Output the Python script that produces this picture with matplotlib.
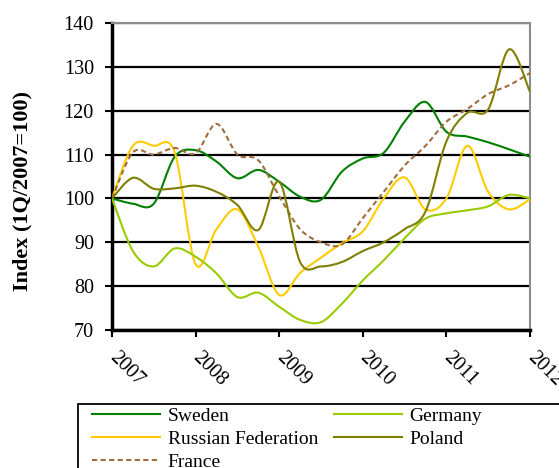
import matplotlib
matplotlib.use("Agg")
import matplotlib.pyplot as plt
from matplotlib.path import Path
from matplotlib.patches import PathPatch, Rectangle
from matplotlib.lines import Line2D

plt.rcParams['font.family'] = ['Liberation Serif', 'DejaVu Serif']

# quarterly index, 1Q2007 .. 1Q2012
quarters = [2007 + q / 4 for q in range(21)]
sweden = [100, 98.8, 98.8, 109.5, 111, 108.4, 104.6, 106.5, 103.8, 100.4, 99.7,
          106.1, 109.1, 110.4, 117.5, 122, 115.2, 114.1, 112.8, 111.2, 109.5]
germany = [100, 88, 84.5, 88.6, 86.7, 82.9, 77.5, 78.5, 75.3, 72.3, 71.8,
           76, 81.3, 85.9, 90.9, 95.4, 96.6, 97.3, 98.2, 100.8, 100]
russia = [100, 112.0, 112.0, 110.5, 85, 93, 97.5, 89, 78, 83, 86.5,
          89.8, 92.5, 100, 104.8, 97.5, 100, 112, 101.5, 97.5, 99.8]
poland = [100, 104.7, 102.2, 102.3, 102.9, 101.5, 98.5, 92.8, 103.8, 85.5, 84.5,
          85.5, 88, 90, 93, 97, 113, 119.5, 120.3, 134, 124.3]
france = [100, 110.5, 110, 111.5, 110.3, 117, 110, 108.7, 100.5, 93, 90,
          89.5, 95.5, 101.5, 107.5, 112, 117.5, 120.4, 123.8, 125.8, 128.6]

series = [
    ("Sweden", sweden, "#008000", "-"),
    ("Russian Federation", russia, "#ffcc00", "-"),
    ("France", france, "#a06d3f", (0, (2.5, 1.6))),
    ("Germany", germany, "#99cc00", "-"),
    ("Poland", poland, "#808000", "-"),
]


def smooth_path(xs, ys):
    # spreadsheet-style smoothed line: cubic bezier through every point
    pts = list(zip(xs, ys))
    n = len(pts)
    verts = [pts[0]]
    codes = [Path.MOVETO]
    for i in range(n - 1):
        p0 = pts[max(i - 1, 0)]
        p1 = pts[i]
        p2 = pts[i + 1]
        p3 = pts[min(i + 2, n - 1)]
        c1 = (p1[0] + (p2[0] - p0[0]) / 6, p1[1] + (p2[1] - p0[1]) / 6)
        c2 = (p2[0] - (p3[0] - p1[0]) / 6, p2[1] - (p3[1] - p1[1]) / 6)
        verts += [c1, c2, p2]
        codes += [Path.CURVE4] * 3
    return Path(verts, codes)


fig = plt.figure(figsize=(5.59, 4.68), dpi=100)
ax = fig.add_axes([112 / 559, 1 - 330 / 468, 418 / 559, 307 / 468])
ax.set_xlim(2007, 2012)
ax.set_ylim(70, 140)

handles = []
for name, vals, col, ls in series:
    patch = PathPatch(smooth_path(quarters, vals), fill=False, edgecolor=col,
                      lw=1.5, linestyle=ls, zorder=3)
    ax.add_patch(patch)
    handles.append(Line2D([], [], color=col, lw=1.5, linestyle=ls))

ax.set_yticks(range(70, 141, 10))
ax.set_xticks(range(2007, 2013))
ax.yaxis.grid(True, color='black', lw=1.6, zorder=1)
ax.set_axisbelow(True)

for side in ['top', 'right']:
    ax.spines[side].set_color('#8c8c8c')
    ax.spines[side].set_linewidth(1.5)
for side in ['left', 'bottom']:
    ax.spines[side].set_color('black')
    ax.spines[side].set_linewidth(2.5)

ax.tick_params(axis='y', length=5, width=1.5, pad=8, labelsize=14.5)
ax.tick_params(axis='x', length=5, width=1.5, pad=13, labelsize=14.5)
for lab in ax.get_xticklabels():
    lab.set_rotation(-45)
    lab.set_ha('left')
    lab.set_va('center')
    lab.set_rotation_mode('anchor')

fig.text(22 / 559, 1 - 191 / 468, "Index (1Q/2007=100)", rotation=90,
         ha='center', va='center', fontsize=16, fontweight='bold')

# legend box runs off the bottom/right of the picture
fig.patches.append(Rectangle((78 / 559, -0.2), 1.0, 0.2 + 1 - 404 / 468,
                             transform=fig.transFigure, fill=False,
                             edgecolor='black', lw=1.3))
leg = fig.legend(handles, [s[0] for s in series], ncol=2,
                 loc='upper left', bbox_to_anchor=(92 / 559, 1 - 407 / 468),
                 frameon=False, fontsize=14, handlelength=3.5,
                 handletextpad=0.4, labelspacing=0.28, columnspacing=0.8,
                 borderaxespad=0, borderpad=0)

plt.savefig("out.png", dpi=100)
